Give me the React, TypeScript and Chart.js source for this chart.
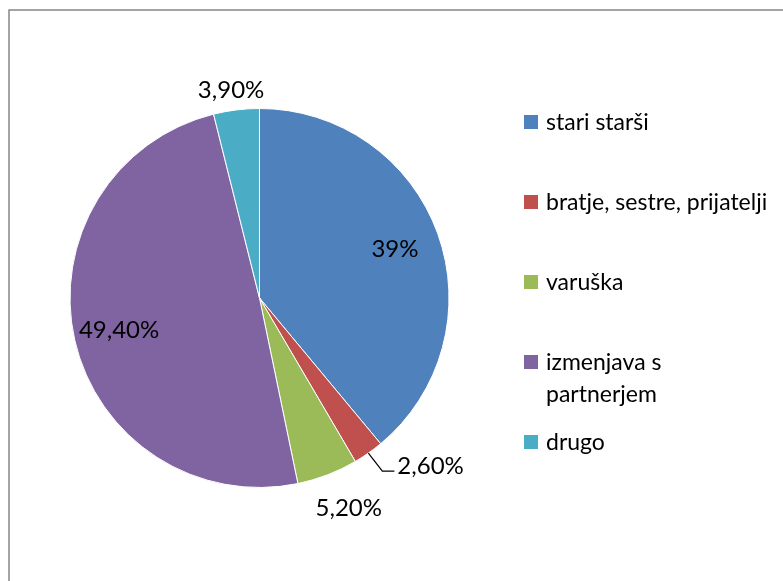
import React, { useEffect, useRef } from "react";
import { Chart, registerables } from "chart.js";

Chart.register(...registerables);

const categories: (string | string[])[] = [
  "stari starši",
  "bratje, sestre, prijatelji",
  "varuška",
  ["izmenjava s", "partnerjem"],
  "drugo",
];
const values = [39, 2.6, 5.2, 49.4, 3.9];
const valueLabels = ["39%", "2,60%", "5,20%", "49,40%", "3,90%"];
const colors = ["#4F81BD", "#C0504D", "#9BBB59", "#8064A2", "#4BACC6"];
const labelPlacement = ["inside", "leader", "outside", "inside", "outside"];

const FONT = "Lato, 'Open Sans', sans-serif";

const decorPlugin = {
  id: "decor",
  beforeDraw(chart: any) {
    const ctx = chart.ctx;
    ctx.save();
    ctx.fillStyle = "#ffffff";
    ctx.fillRect(0, 0, chart.width, chart.height);
    ctx.strokeStyle = "#868686";
    ctx.lineWidth = 1.5;
    ctx.beginPath();
    ctx.moveTo(9, chart.height + 5);
    ctx.lineTo(9, 10);
    ctx.lineTo(chart.width + 5, 10);
    ctx.stroke();
    ctx.restore();
  },
  afterDraw(chart: any) {
    const ctx = chart.ctx;
    const meta = chart.getDatasetMeta(0);
    ctx.save();
    ctx.fillStyle = "#000000";
    ctx.strokeStyle = "#000000";
    ctx.font = `24px ${FONT}`;
    ctx.textBaseline = "middle";
    const outsidePad: Record<number, number> = { 2: 26, 4: 10 };
    meta.data.forEach((arc: any, i: number) => {
      const { x, y, startAngle, endAngle, outerRadius } = arc.getProps(
        ["x", "y", "startAngle", "endAngle", "outerRadius"],
        true
      );
      const mid = (startAngle + endAngle) / 2;
      const cos = Math.cos(mid);
      const sin = Math.sin(mid);
      const place = labelPlacement[i];
      if (place === "inside") {
        const r = outerRadius * 0.76;
        ctx.textAlign = "center";
        ctx.fillText(valueLabels[i], x + cos * r, y + sin * r);
      } else if (place === "outside") {
        const r = outerRadius + (outsidePad[i] ?? 10);
        const w = ctx.measureText(valueLabels[i]).width;
        const h = 20;
        ctx.textAlign = "center";
        ctx.fillText(
          valueLabels[i],
          x + cos * r + (cos * w) / 2,
          y + sin * r + (sin * h) / 2
        );
      } else {
        const ex = x + cos * outerRadius;
        const ey = y + sin * outerRadius;
        const kx = ex + 14;
        const ky = ey + 18;
        ctx.lineWidth = 1.2;
        ctx.beginPath();
        ctx.moveTo(ex, ey);
        ctx.lineTo(kx, ky);
        ctx.lineTo(kx + 12, ky);
        ctx.stroke();
        ctx.textAlign = "left";
        ctx.fillText(valueLabels[i], kx + 15, ky - 5);
      }
    });

    // legend
    ctx.font = `23px ${FONT}`;
    ctx.textAlign = "left";
    const lx = 524;
    const startY = 122;
    const step = 80;
    const lineH = 32;
    categories.forEach((cat, i) => {
      const cy = startY + step * i;
      ctx.fillStyle = colors[i];
      ctx.fillRect(lx, cy - 7, 14, 14);
      ctx.fillStyle = "#000000";
      const lines = Array.isArray(cat) ? cat : [cat];
      lines.forEach((ln, j) => {
        ctx.fillText(ln, lx + 22, cy + 1 + j * lineH);
      });
    });
    ctx.restore();
  },
};

export default function App() {
  const ref = useRef<HTMLCanvasElement | null>(null);
  useEffect(() => {
    if (!ref.current) return;
    const chart = new Chart(ref.current, {
      type: "pie",
      data: {
        labels: categories as any,
        datasets: [
          {
            data: values,
            backgroundColor: colors,
            borderColor: "#ffffff",
            borderWidth: 1,
          },
        ],
      },
      options: {
        animation: false,
        responsive: false,
        devicePixelRatio: 1,
        layout: { padding: { top: 108, bottom: 93, left: 69, right: 333 } },
        plugins: {
          legend: { display: false },
          tooltip: { enabled: false },
          title: { display: false },
        },
      },
      plugins: [decorPlugin],
    });
    return () => chart.destroy();
  }, []);
  return (
    <div style={{ position: "absolute", left: 0, top: 0, width: 783, height: 581 }}>
      <canvas ref={ref} width={783} height={581} style={{ display: "block" }} />
    </div>
  );
}
